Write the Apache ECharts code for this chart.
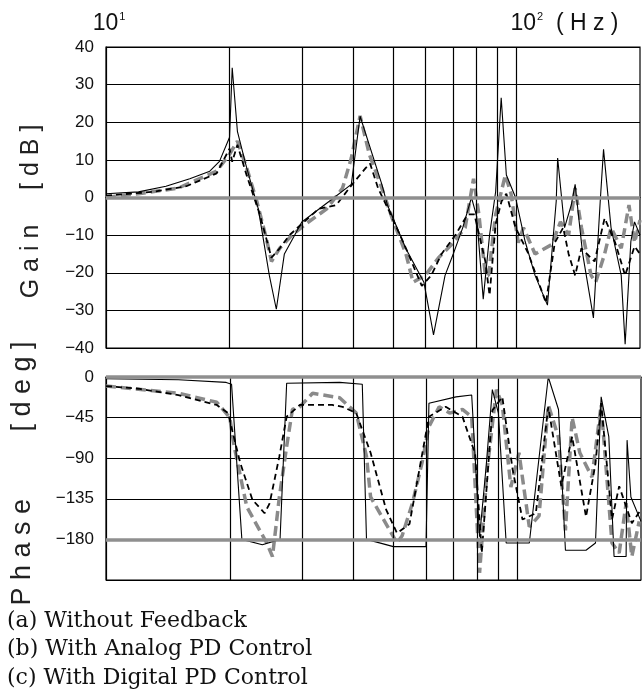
<!DOCTYPE html>
<html>
<head>
<meta charset="utf-8">
<script src="https://cdn.jsdelivr.net/npm/echarts@6/dist/echarts.min.js"></script>
<style>
html, body { margin: 0; padding: 0; background: #fff; }
#pic { width: 643px; height: 691px; }
</style>
</head>
<body>
<div id="pic"></div>
<script>
// frequency points are [Hz, value]
var gainA = [[10,1],[12,1.5],[14,3],[16,5],[17.9,7],[18.9,9.6],[20,16],[20.3,34.5],[20.9,17.6],[22,8],[23.5,-3],[25,-20.7],[26,-29.7],[27.2,-15],[30,-6.5],[35,-1],[39.6,3.5],[41.6,21.6],[47,3.5],[48.5,-2],[53.8,-13.6],[59.5,-22.5],[62.8,-36.5],[67,-20.7],[70,-15.3],[74,-8],[77.7,0],[80,-5],[83,-27],[86,-10],[89,1.6],[91.8,26.5],[94.5,6],[99.5,0],[105,-11.7],[111,-20.7],[119,-28.6],[125,-1],[126,10.5],[131,-8],[136,-2],[139,3.5],[145,-15],[154,-32],[160,-1],[163,12.8],[170,-8],[180,-20.7],[184,-39],[190,-11.7],[194,-6.5],[200,-10]];
var gainB = [[10,0.5],[13,1.5],[15.7,3],[18.6,6.4],[20,13],[20.3,9.5],[20.9,14],[22,6],[23.7,-4.5],[25.3,-16],[26.5,-13.5],[28,-10],[30,-7],[33,-3],[36.4,-2],[39.8,3.5],[42.9,7.8],[44,9],[46,2.5],[49,-3.7],[53.8,-13.5],[58.8,-23.5],[62,-20.7],[65.7,-15],[71,-10],[76,-4.5],[79,-4.5],[84,-17],[86,-26],[89,-7],[92,-1],[94.5,1],[99.5,-8],[107,-15],[118,-28],[124,-12],[130,-8],[134,-15],[139,-20.7],[144,-13.5],[155,-17],[164,-5.5],[174,-12],[184,-20.7],[194,-13],[200,-15]];
var gainC = [[10,0],[12,1],[15,2.5],[18.6,7],[20,11.5],[20.9,15],[22,8],[23.3,-1],[24.6,-11],[25.3,-17],[26.5,-13.5],[28.4,-10],[30.7,-7],[34.5,-3],[37.7,2.5],[39.6,10.5],[41.6,21.7],[43.8,11.5],[47,2.5],[49.8,-5.5],[53.8,-15],[56,-22.5],[60,-20.7],[64.6,-16],[69.5,-12.5],[75,-8],[78.6,5],[81,-4.5],[84,-20.7],[85.5,-20.7],[89,-4.5],[94,6],[97,1],[101,-12],[104,-8],[111,-15],[122,-12.5],[128,-6.5],[134,-10],[139,2.5],[144,-8],[152,-20.7],[156,-22.5],[164,-15],[170,-8],[180,-13.5],[188,-2],[194,-12],[200,-6]];

var phaseA = [[10,-2],[15,-3],[19.6,-6],[20.2,-8],[21.4,-180],[24,-186],[26.5,-180],[27.5,-7],[37,-6],[42,-8],[43,-180],[50,-188],[60,-188],[61,-29],[71,-22],[77.5,-20],[81,-177],[84,-100],[87,-14],[90,-40],[94,-184],[107,-184],[119,0],[126,-36],[131,-192],[147,-192],[155,-184],[160,-22],[167,-66],[172,-199],[184,-199],[185,-70],[189,-133],[200,-160]];
var phaseB = [[10,-10],[12,-13],[15,-20],[18.6,-31],[19.8,-40],[21.2,-95],[22.7,-136],[24.3,-151],[25,-140],[26.4,-88],[27.5,-44],[29.6,-31],[35.5,-31],[37.6,-33],[40.6,-40],[44,-84],[48,-147],[51,-173],[54.7,-163],[57.8,-103],[61,-44],[67,-33],[73.6,-44],[79,-85],[82,-195],[87,-37],[92,-22],[97.5,-103],[103,-158],[111,-151],[119,-33],[128,-121],[136,-66],[147,-155],[155,-96],[160,-29],[170,-158],[177,-121],[190,-162],[200,-147]];
var phaseC = [[10,-10],[15,-18],[18.6,-28],[20,-45],[20.5,-77],[22,-144],[24.6,-184],[25.4,-199],[26.4,-133],[27.5,-77],[28.4,-36],[29.6,-33],[31.8,-18],[37,-23],[40.6,-40],[43,-88],[44,-133],[49,-170],[51,-184],[52.5,-176],[55.6,-140],[58.7,-95],[61,-55],[64.6,-33],[68.5,-40],[73.6,-36],[77.5,-44],[81,-217],[84.5,-103],[89,-14],[92,-31],[96.5,-122],[101,-84],[107,-166],[113,-154],[119,-31],[126,-67],[131,-170],[136,-45],[142,-84],[152,-111],[160,-31],[170,-184],[177,-195],[184,-140],[190,-199],[198,-160]];

var gridFreqs = [20, 30, 40, 50, 60, 70, 80, 90, 100];
var legendLines = ['(a) Without Feedback', '(b) With Analog PD Control', '(c) With Digital PD Control'];

var tickFont = 'Liberation Sans';

function vLines(color, width) {
    return {
        silent: true, symbol: 'none', animation: false,
        label: { show: false },
        lineStyle: { color: color, width: width, type: 'solid' },
        data: gridFreqs.map(function (f) { return { xAxis: f }; })
    };
}

function minusLabel(v) {
    return String(v).replace('-', '\u2212');
}

var myChart = echarts.init(document.getElementById('pic'));

option = {
    animation: false,
    backgroundColor: '#fff',
    title: {
        text: legendLines.join('\n'),
        left: 2, top: 602,
        textStyle: { fontFamily: 'DejaVu Serif', fontWeight: 'normal', fontSize: 22, lineHeight: 28.5, color: '#111' }
    },
    grid: [
        { left: 106, top: 47, width: 535, height: 301, show: true, borderColor: '#000', borderWidth: 1.2 },
        { left: 106, top: 377, width: 535, height: 203, show: true, borderColor: '#000', borderWidth: 1.2 }
    ],
    xAxis: [
        {
            gridIndex: 0, type: 'log', logBase: 10, min: 10, max: 200, position: 'top',
            axisLine: { lineStyle: { color: '#000', width: 1.2 } },
            axisTick: { show: false }, splitLine: { show: false },
            axisLabel: {
                margin: 11,
                formatter: function (v) {
                    if (v === 10) return '{p1|}{b|10}{s|1}';
                    if (v === 100) return '{p2|}{b|10}{s|2}{u|  ( H z )}';
                    return '';
                },
                rich: {
                    b: { fontFamily: tickFont, fontSize: 23, color: '#111' },
                    s: { fontFamily: tickFont, fontSize: 11, color: '#111', verticalAlign: 'top', padding: [0, 0, 14, 1] },
                    u: { fontFamily: tickFont, fontSize: 23, color: '#111' },
                    p1: { width: 6 },
                    p2: { width: 96 }
                }
            }
        },
        {
            gridIndex: 1, type: 'log', logBase: 10, min: 10, max: 200,
            axisLine: { lineStyle: { color: '#000', width: 1.2 } },
            axisTick: { show: false }, splitLine: { show: false },
            axisLabel: { show: false }
        }
    ],
    yAxis: [
        {
            gridIndex: 0, type: 'value', min: -40, max: 40, interval: 10,
            name: 'G a i n     [ d B ]', nameLocation: 'middle', nameRotate: 90, nameGap: 62,
            nameTextStyle: { fontFamily: tickFont, fontSize: 25, color: '#222', padding: [0, 28, 0, 0] },
            axisLine: { lineStyle: { color: '#000', width: 1.2 } },
            axisTick: { show: false },
            splitLine: { lineStyle: { color: '#000', width: 1.2 } },
            axisLabel: { fontFamily: tickFont, fontSize: 17, color: '#111', margin: 12, formatter: minusLabel }
        },
        {
            gridIndex: 1, type: 'value', min: -225, max: 0, interval: 45,
            name: 'P h a s e         [ d e g ]', nameLocation: 'middle', nameRotate: 90, nameGap: 70,
            nameTextStyle: { fontFamily: tickFont, fontSize: 27, color: '#222', padding: [0, 0, 0, 10] },
            axisLine: { lineStyle: { color: '#000', width: 1.2 } },
            axisTick: { show: false },
            splitLine: { lineStyle: { color: '#000', width: 1.2 } },
            axisLabel: {
                fontFamily: tickFont, fontSize: 17, color: '#111', margin: 12,
                formatter: function (v) { return v === -225 ? '' : minusLabel(v); }
            }
        }
    ],
    series: [
        {
            name: 'grid gain', type: 'line', xAxisIndex: 0, yAxisIndex: 0, data: [],
            markLine: vLines('#000', 1.2)
        },
        {
            name: 'grid phase', type: 'line', xAxisIndex: 1, yAxisIndex: 1, data: [],
            markLine: vLines('#000', 1.2)
        },
        {
            name: 'zero gain', type: 'line', xAxisIndex: 0, yAxisIndex: 0, data: [],
            markLine: {
                silent: true, symbol: 'none', label: { show: false },
                lineStyle: { color: '#8f8f8f', width: 3.5, type: 'solid' },
                data: [{ yAxis: 0 }]
            }
        },
        {
            name: 'ref phase', type: 'line', xAxisIndex: 1, yAxisIndex: 1, data: [],
            markLine: {
                silent: true, symbol: 'none', label: { show: false },
                lineStyle: { color: '#8f8f8f', width: 3.5, type: 'solid' },
                data: [{ yAxis: -180 }, { yAxis: 0 }]
            }
        },
        {
            name: '(c) With Digital PD Control', type: 'line', xAxisIndex: 0, yAxisIndex: 0,
            data: gainC, showSymbol: false,
            lineStyle: { color: '#8a8a8a', width: 3.5, type: [10, 5] }
        },
        {
            name: '(c) With Digital PD Control', type: 'line', xAxisIndex: 1, yAxisIndex: 1,
            data: phaseC, showSymbol: false,
            lineStyle: { color: '#8a8a8a', width: 3.5, type: [10, 5] }
        },
        {
            name: '(b) With Analog PD Control', type: 'line', xAxisIndex: 0, yAxisIndex: 0,
            data: gainB, showSymbol: false,
            lineStyle: { color: '#000', width: 1.8, type: [6, 4] }
        },
        {
            name: '(b) With Analog PD Control', type: 'line', xAxisIndex: 1, yAxisIndex: 1,
            data: phaseB, showSymbol: false,
            lineStyle: { color: '#000', width: 1.8, type: [6, 4] }
        },
        {
            name: '(a) Without Feedback', type: 'line', xAxisIndex: 0, yAxisIndex: 0,
            data: gainA, showSymbol: false,
            lineStyle: { color: '#000', width: 1.1 }
        },
        {
            name: '(a) Without Feedback', type: 'line', xAxisIndex: 1, yAxisIndex: 1,
            data: phaseA, showSymbol: false,
            lineStyle: { color: '#000', width: 1.1 }
        }
    ]
};

myChart.setOption(option);
</script>
</body>
</html>
